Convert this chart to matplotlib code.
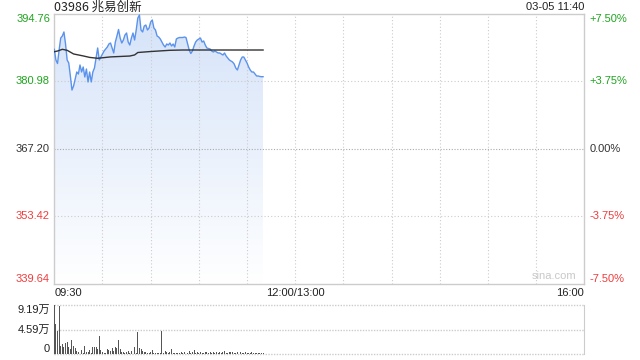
import numpy as np
import matplotlib
matplotlib.use('Agg')
import matplotlib.pyplot as plt
from matplotlib.colors import LinearSegmentedColormap

plt.rcParams['font.family'] = ['Liberation Sans', 'Noto Sans CJK SC']

title = '03986 兆易创新'
stamp = '03-05 11:40'
price_ticks = [394.76, 380.98, 367.20, 353.42, 339.64]
pct_labels = ['+7.50%', '+3.75%', '0.00%', '-3.75%', '-7.50%']
tick_colors = ['#1fa51f', '#1fa51f', '#333333', '#f03c3c', '#f03c3c']
time_labels = ['09:30', '12:00/13:00', '16:00']
time_pos = [0, 150, 330]

# one price per minute from 09:30 to 11:40
price = [387.55, 385.37, 384.65, 387.41, 389.86, 390.27, 391.09, 388.64, 385.37, 384.76,
         382.10, 379.24, 380.06, 381.49, 382.92, 382.51, 384.35, 382.92, 383.94, 381.90,
         383.53, 380.88, 382.92, 380.88, 382.92, 383.73, 385.78, 387.82, 385.37, 385.98,
         386.59, 387.21, 387.61, 388.02, 388.64, 388.84, 387.82, 386.80, 389.04, 390.27,
         391.60, 389.86, 388.84, 389.45, 390.47, 390.88, 389.04, 388.43, 389.86, 390.88,
         389.45, 391.49, 393.94, 394.56, 391.49, 391.09, 392.31, 392.51, 391.49, 391.90,
         393.13, 393.54, 391.90, 391.49, 390.27, 390.06, 389.66, 389.04, 388.43, 388.02,
         388.64, 388.43, 388.84, 388.23, 388.64, 388.02, 389.66, 389.86, 389.96, 389.96,
         389.96, 390.06, 389.96, 388.64, 387.41, 386.70, 387.21, 388.23, 389.04, 389.45,
         389.66, 389.86, 389.04, 389.25, 388.43, 387.82, 387.72, 387.61, 387.21, 387.00,
         387.21, 387.00, 386.80, 386.80, 386.59, 386.39, 386.80, 386.18, 385.78, 385.37,
         385.16, 384.96, 384.55, 383.73, 383.33, 384.35, 385.37, 385.98, 385.98, 385.37,
         384.76, 383.94, 383.33, 382.92, 382.92, 382.51, 382.10, 382.10, 382.00, 381.96,
         381.96]

avg_min = [0, 2, 5, 8, 12, 18, 22, 27, 35, 47, 50, 52, 60, 72, 80, 130]
avg_price = [387.06, 387.20, 387.55, 387.35, 386.60, 386.20, 385.90, 385.72, 386.00,
             386.18, 386.40, 386.90, 387.10, 387.35, 387.41, 387.41]

# volume in 万股
vol = [9.19, 5.65, 4.41, 9.05, 1.55, 1.93, 1.30, 2.17, 2.30, 1.43,
       0.93, 2.67, 1.55, 1.12, 0.68, 0.37, 0.50, 0.81, 0.31, 1.55,
       0.50, 0.37, 0.81, 0.19, 1.43, 1.43, 1.43, 0.90, 3.42, 0.81,
       0.50, 0.31, 0.31, 0.93, 0.81, 0.68, 1.12, 0.68, 1.43, 1.12,
       2.67, 0.93, 0.50, 0.37, 0.19, 0.50, 0.68, 0.19, 0.68, 0.40,
       1.43, 0.30, 4.22, 1.12, 0.93, 0.68, 0.50, 0.37, 0.19, 0.19,
       0.37, 0.81, 0.19, 0.31, 0.19, 0.31, 0.25, 4.40, 0.31, 0.68,
       0.37, 0.31, 0.50, 0.93, 0.19, 0.19, 0.19, 0.31, 0.19, 0.37,
       0.19, 0.50, 0.31, 0.31, 0.68, 0.31, 0.50, 0.81, 0.25, 0.37,
       0.19, 0.44, 0.31, 0.19, 0.50, 0.37, 0.25, 0.44, 0.19, 0.37,
       0.31, 0.50, 0.25, 0.44, 0.19, 0.37, 0.56, 0.31, 0.25, 0.50,
       0.37, 0.44, 0.25, 0.31, 0.37, 0.25, 0.44, 0.31, 0.19, 0.37,
       0.25, 0.31, 0.19, 0.37, 0.25, 0.31, 0.19, 0.25, 0.31, 0.19,
       0.25]
vol_ticks = [9.19, 4.595, 0]
vol_labels = ['9.19万', '4.59万', '0']

W, H = 640, 360
fig = plt.figure(figsize=(6.4, 3.6), dpi=100)
ax = fig.add_axes([54.3 / W, 1 - 284 / H, 530 / W, 270 / H])
lo, hi = price_ticks[-1], price_ticks[0]
minutes = np.arange(len(price))

# gradient area under the price line
poly = ax.fill_between(minutes, price, lo, color='none', lw=0)
cmap = LinearSegmentedColormap.from_list('fade', ['#ffffff', '#d5e3f9'])
img = ax.imshow(np.linspace(1, 0, 256).reshape(-1, 1), cmap=cmap, aspect='auto',
                extent=[0, minutes[-1], lo, hi], zorder=1)
img.set_clip_path(poly.get_paths()[0], transform=ax.transData)

ax.plot(minutes, price, color='#5b93ec', lw=1, zorder=4)
ax.plot(avg_min, avg_price, color='#333333', lw=1, zorder=5)

ax.set_xlim(0, 330)
ax.set_ylim(lo, hi)
for x in range(30, 330, 30):
    ax.axvline(x, color='#cccccc', lw=0.8, ls=(0, (1, 2)), zorder=2)
for y in [price_ticks[1], price_ticks[3]]:
    ax.axhline(y, color='#cccccc', lw=0.8, ls=(0, (1, 2)), zorder=2)
ax.axhline(price_ticks[2], color='#aaaaaa', lw=0.8, ls=(0, (1, 1.5)), zorder=2)
ax.set_xticks([])
ax.set_yticks([])
for s in ax.spines.values():
    s.set_color('#cccccc')
    s.set_linewidth(1)

vas = ['top', 'center', 'center', 'center', 'bottom']
for p, lab, c, va in zip(price_ticks, pct_labels, tick_colors, vas):
    ax.text(-0.008, p, f'{p:.2f}', transform=ax.get_yaxis_transform(),
            ha='right', va=va, fontsize=8, color=c)
    ax.text(1.01, p, lab, transform=ax.get_yaxis_transform(),
            ha='left', va=va, fontsize=8, color=c)

for t, lab, ha in zip(time_pos, time_labels, ['left', 'center', 'right']):
    fig.text((54.3 + t * 530 / 330) / W, 1 - 293 / H, lab, ha=ha, va='center',
             fontsize=8, color='#222222')

fig.text(54.5 / W, 1 - 7 / H, title, ha='left', va='center', fontsize=9, color='#222222',
         family=['Noto Sans CJK SC'])
fig.text(584 / W, 1 - 7 / H, stamp, ha='right', va='center', fontsize=8, color='#222222')
ax.text(0.985, 0.012, 'sina.com', transform=ax.transAxes, ha='right', va='bottom',
        fontsize=8, color='#c8c8c8')

# volume panel
vx = fig.add_axes([54.3 / W, 1 - 354.3 / H, 530 / W, 49.3 / H])
vx.bar(minutes, vol, width=0.6, color='#555555', zorder=3)
vx.set_xlim(0, 330)
vx.set_ylim(0, vol_ticks[0])
for y in vol_ticks:
    vx.axhline(y, color='#cccccc', lw=1, ls=(0, (1, 1)), zorder=1, clip_on=False)
vx.set_xticks([])
vx.set_yticks([])
for k in ['top', 'bottom']:
    vx.spines[k].set_visible(False)
for k in ['left', 'right']:
    vx.spines[k].set_color('#cccccc')
for y, lab, va in zip(vol_ticks, vol_labels, ['top', 'center', 'bottom']):
    vx.text(-0.008, y, lab, transform=vx.get_yaxis_transform(), ha='right', va=va,
            fontsize=8, color='#222222')

fig.savefig('out.png', dpi=100)
